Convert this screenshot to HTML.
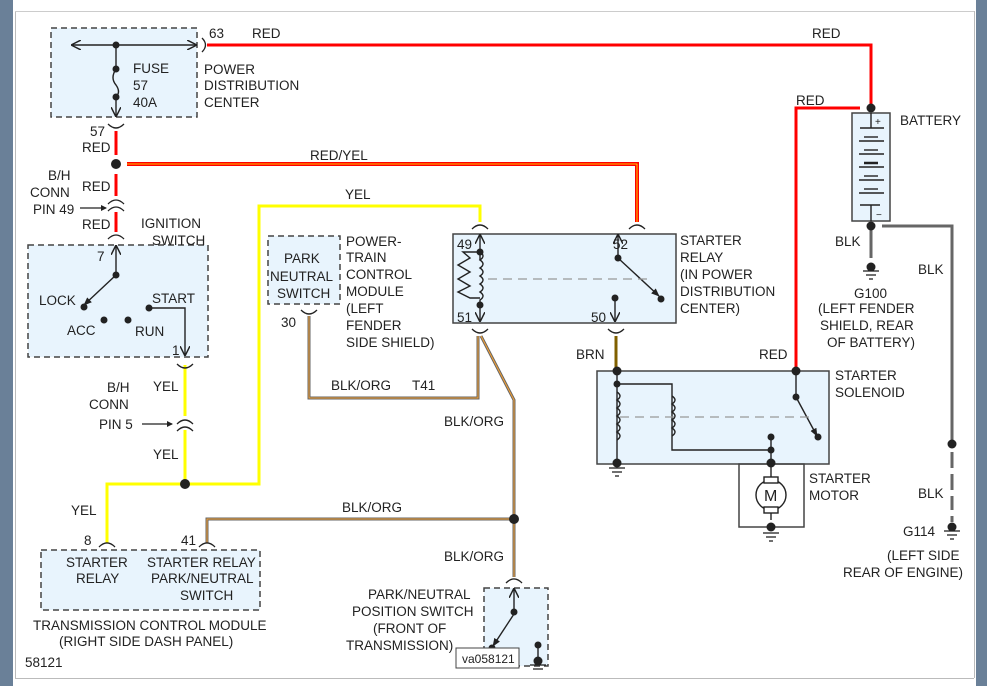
<!DOCTYPE html>
<html><head><meta charset="utf-8"><style>
html,body{margin:0;padding:0;background:#fff;}
svg{display:block;font-family:"Liberation Sans",Arial,sans-serif;}
text{font-size:13.5px;fill:#222;}
</style></head><body>
<svg width="987" height="686" viewBox="0 0 987 686" xmlns="http://www.w3.org/2000/svg">
<defs>
<marker id="ar" viewBox="0 0 10 10" refX="9" refY="5" markerWidth="7" markerHeight="7" orient="auto"><path d="M0,0 L10,5 L0,10" fill="none" stroke="#222" stroke-width="1.5"/></marker>
<marker id="af" viewBox="0 0 10 10" refX="9" refY="5" markerWidth="6" markerHeight="6" orient="auto"><path d="M0,1 L10,5 L0,9z" fill="#222"/></marker>
</defs>
<rect x="0" y="0" width="987" height="686" fill="#fff"/>
<rect x="0" y="0" width="13" height="686" fill="#6a8098"/>
<rect x="976" y="0" width="11" height="686" fill="#6a8098"/>
<line x1="15.5" y1="11" x2="15.5" y2="678" stroke="#bbb"/>
<line x1="15" y1="11.5" x2="974" y2="11.5" stroke="#ccc"/>
<line x1="974.5" y1="11" x2="974.5" y2="678" stroke="#bbb"/>
<line x1="15" y1="678.5" x2="974" y2="678.5" stroke="#bbb"/>

<g fill="#e8f4fd" stroke="#444" stroke-width="1.5" stroke-dasharray="6,4">
<rect x="51" y="28" width="146" height="89"/>
<rect x="28" y="245" width="180" height="112"/>
<rect x="268" y="236" width="72" height="68"/>
<rect x="41" y="550" width="219" height="60"/>
<rect x="484" y="588" width="64" height="78"/>
</g>
<g fill="#e8f4fd" stroke="#444" stroke-width="1.5">
<rect x="453" y="234" width="223" height="89"/>
<rect x="597" y="371" width="232" height="93"/>
<rect x="852" y="113" width="38" height="108"/>
</g>
<rect x="739" y="464" width="65" height="63" fill="none" stroke="#444" stroke-width="1.5"/>

<g fill="none" stroke-width="3">
<path d="M207,45 H871 V108" stroke="#f00"/>
<path d="M860,108 H796 V372" stroke="#f00"/>
<path d="M116,131 V155 M116,174 V196 M116,212 V232" stroke="#f00"/>
<path d="M127,164 H637 V222" stroke="#f00" stroke-width="4"/>
<path d="M127,164 H637 V222" stroke="#ff0" stroke-width="0.8"/>
<path d="M480,222 V206 H259 V484 H185 M185,365 V416 M185,430 V484 M185,484 H107 V543" stroke="#ff0"/>
<path d="M309,316 V398 H478 V336 M481,336 L514,400 V577 M514,519 H207 V543" stroke="#666"/>
<path d="M309,316 V398 H478 V336 M481,336 L514,400 V577 M514,519 H207 V543" stroke="#f7a030" stroke-width="1"/>
<path d="M616,336 V372" stroke="#806000"/>
<path d="M871,228 V258 M882,226 H952 V440 M952,452 V468 M952,474 V490 M952,496 V510 M952,516 V522" stroke="#666"/>
</g>

<g fill="none" stroke="#222" stroke-width="1.3">
<path d="M202,38 Q209,45 202,52"/>
<path d="M108,124 Q116,132 124,124"/>
<path d="M108,204 Q116,196 124,204 M108,211 Q116,203 124,211"/>
<path d="M108,239 Q116,231 124,239"/>
<path d="M177,364 Q185,372 193,364"/>
<path d="M177,424 Q185,416 193,424 M177,431 Q185,423 193,431"/>
<path d="M99,547 Q107,539 115,547 M199,547 Q207,539 215,547"/>
<path d="M301,310 Q309,318 317,310"/>
<path d="M472,229 Q480,221 488,229 M629,229 Q637,221 645,229"/>
<path d="M472,329 Q480,337 488,329 M608,329 Q616,337 624,329"/>
<path d="M506,583 Q514,575 522,583"/>
</g>

<g stroke="#222" stroke-width="1.4" fill="none">
<line x1="116" y1="45" x2="72" y2="45" marker-end="url(#ar)"/>
<line x1="116" y1="45" x2="196" y2="45" marker-end="url(#ar)"/>
<line x1="116" y1="45" x2="116" y2="69"/>
<path d="M116,69 Q110,78 116,85 Q121,92 116,97"/>
<line x1="116" y1="97" x2="116" y2="116" marker-end="url(#ar)"/>
<line x1="116" y1="275" x2="116" y2="246" marker-end="url(#ar)"/>
<line x1="116" y1="275" x2="84" y2="305" marker-end="url(#af)"/>
<path d="M149,308 H185 V355" marker-end="url(#ar)"/>
<line x1="480" y1="260" x2="480" y2="235" marker-end="url(#ar)"/>
<line x1="480" y1="305" x2="480" y2="321" marker-end="url(#ar)"/>
<path d="M480,252 H463 L470,258 L458,265 L470,272 L458,279 L470,286 L458,292 L470,298 H480"/>
<path d="M480,252 q6,4 0,8 q6,4 0,8 q6,4 0,8 q6,4 0,8 q6,4 0,8 q6,4 0,8 v6"/>
<line x1="618" y1="258" x2="618" y2="235" marker-end="url(#ar)"/>
<line x1="618" y1="258" x2="659" y2="296" marker-end="url(#af)"/>
<line x1="615" y1="298" x2="615" y2="321" marker-end="url(#ar)"/>
<line x1="617" y1="371" x2="617" y2="463"/>
<path d="M617,384 H672 V450 H771"/>
<path d="M617,392 q6,4 0,8 q6,4 0,8 q6,4 0,8 q6,4 0,8 q6,4 0,8 q6,4 0,8"/>
<path d="M672,396 q6,4 0,8 q6,4 0,8 q6,4 0,8 q6,4 0,8 q6,4 0,8"/>
<line x1="796" y1="371" x2="796" y2="397"/>
<line x1="796" y1="397" x2="817" y2="436" marker-end="url(#af)"/>
<line x1="771" y1="437" x2="771" y2="520"/>
<circle cx="771" cy="495" r="15" fill="#fff"/>
<rect x="764" y="477" width="14" height="6" fill="#fff"/>
<rect x="764" y="507" width="14" height="6" fill="#fff"/>
<line x1="514" y1="612" x2="514" y2="589" marker-end="url(#ar)"/>
<line x1="514" y1="614" x2="493" y2="646" marker-end="url(#af)"/>
<line x1="538" y1="645" x2="538" y2="661"/>
<line x1="871" y1="113" x2="871" y2="128"/><line x1="871" y1="205" x2="871" y2="221"/>
<line x1="860" y1="128" x2="884" y2="128"/><line x1="860" y1="205" x2="880" y2="205"/>
<line x1="859" y1="141" x2="884" y2="141"/><line x1="859" y1="154" x2="884" y2="154"/><line x1="859" y1="167" x2="884" y2="167"/><line x1="859" y1="180" x2="884" y2="180"/><line x1="859" y1="193" x2="884" y2="193"/>
<line x1="864" y1="137" x2="878" y2="137"/><line x1="864" y1="150" x2="878" y2="150"/><line x1="864" y1="163" x2="878" y2="163" stroke-width="2.5"/><line x1="864" y1="176" x2="878" y2="176"/><line x1="864" y1="189" x2="878" y2="189"/>
</g>
<g stroke="#999" stroke-width="1.2" stroke-dasharray="9,6">
<line x1="488" y1="279" x2="650" y2="279"/>
<line x1="620" y1="417" x2="810" y2="417"/>
</g>
<g stroke="#222" stroke-width="1.3">
<line x1="80" y1="208" x2="106" y2="208"/>
<line x1="142" y1="424" x2="172" y2="424"/>
</g>
<g fill="#222">
<path d="M107,208 l-6,-3 v6z"/><path d="M173,424 l-6,-3 v6z"/>
<circle cx="116" cy="45" r="3.5"/><circle cx="116" cy="69" r="3.5"/><circle cx="116" cy="97" r="3.5"/>
<circle cx="116" cy="164" r="5"/><circle cx="185" cy="484" r="5"/><circle cx="514" cy="519" r="5"/>
<circle cx="116" cy="275" r="3.5"/><circle cx="84" cy="307" r="3.5"/><circle cx="104" cy="320" r="3.5"/><circle cx="128" cy="320" r="3.5"/><circle cx="149" cy="308" r="3.5"/>
<circle cx="480" cy="252" r="3.5"/><circle cx="480" cy="305" r="3.5"/><circle cx="618" cy="258" r="3.5"/><circle cx="661" cy="299" r="3.5"/><circle cx="615" cy="298" r="3.5"/>
<circle cx="617" cy="371" r="4.5"/><circle cx="617" cy="384" r="3.5"/><circle cx="617" cy="463" r="4.5"/>
<circle cx="796" cy="371" r="4.5"/><circle cx="796" cy="397" r="3.5"/><circle cx="818" cy="437" r="3.5"/>
<circle cx="771" cy="437" r="3.5"/><circle cx="771" cy="450" r="3.5"/><circle cx="771" cy="463" r="4.5"/><circle cx="771" cy="527" r="4.5"/>
<circle cx="871" cy="108" r="4.5"/><circle cx="871" cy="226" r="4.5"/><circle cx="871" cy="267" r="4.5"/><circle cx="952" cy="444" r="4.5"/><circle cx="952" cy="527" r="4.5"/>
<circle cx="514" cy="612" r="3.5"/><circle cx="492" cy="648" r="3.5"/><circle cx="538" cy="645" r="3.5"/><circle cx="538" cy="661" r="4.5"/>
</g>
<g stroke="#222" stroke-width="1.3">
<line x1="609" y1="468" x2="625" y2="468"/><line x1="612" y1="472" x2="622" y2="472"/><line x1="615" y1="476" x2="619" y2="476"/>
<line x1="763" y1="533" x2="779" y2="533"/><line x1="766" y1="537" x2="776" y2="537"/><line x1="769" y1="541" x2="773" y2="541"/>
<line x1="863" y1="271" x2="879" y2="271"/><line x1="866" y1="275" x2="876" y2="275"/><line x1="869" y1="279" x2="873" y2="279"/>
<line x1="944" y1="531" x2="960" y2="531"/><line x1="947" y1="535" x2="957" y2="535"/><line x1="950" y1="539" x2="954" y2="539"/>
<line x1="530" y1="665" x2="546" y2="665"/><line x1="533" y1="669" x2="543" y2="669"/>
</g>
<rect x="456" y="648" width="63" height="20" fill="#fff" stroke="#444"/>
<text x="462" y="663" style="font-size:12px">va058121</text>

<g>
<text x="133" y="73">FUSE</text><text x="133" y="90">57</text><text x="133" y="107">40A</text>
<text x="204" y="74">POWER</text><text x="204" y="90">DISTRIBUTION</text><text x="204" y="107">CENTER</text>
<text x="209" y="38">63</text><text x="252" y="38">RED</text><text x="812" y="38">RED</text><text x="796" y="105">RED</text>
<text x="90" y="136">57</text><text x="82" y="152">RED</text>
<text x="48" y="180">B/H</text><text x="30" y="197">CONN</text><text x="33" y="214">PIN 49</text>
<text x="82" y="191">RED</text><text x="82" y="229">RED</text>
<text x="141" y="228">IGNITION</text><text x="152" y="245">SWITCH</text>
<text x="97" y="261">7</text><text x="39" y="305">LOCK</text><text x="152" y="303">START</text><text x="67" y="335">ACC</text><text x="135" y="336">RUN</text><text x="172" y="355">1</text>
<text x="310" y="160">RED/YEL</text><text x="345" y="199">YEL</text>
<text x="284" y="263">PARK</text><text x="270" y="281">NEUTRAL</text><text x="277" y="298">SWITCH</text>
<text x="346" y="246">POWER-</text><text x="346" y="262">TRAIN</text><text x="346" y="279">CONTROL</text><text x="346" y="296">MODULE</text><text x="346" y="313">(LEFT</text><text x="346" y="330">FENDER</text><text x="346" y="347">SIDE SHIELD)</text>
<text x="281" y="327">30</text>
<text x="457" y="249">49</text><text x="457" y="322">51</text><text x="613" y="249">52</text><text x="591" y="322">50</text>
<text x="680" y="245">STARTER</text><text x="680" y="262">RELAY</text><text x="680" y="279">(IN POWER</text><text x="680" y="296">DISTRIBUTION</text><text x="680" y="313">CENTER)</text>
<text x="107" y="392">B/H</text><text x="89" y="409">CONN</text><text x="99" y="429">PIN 5</text>
<text x="153" y="391">YEL</text><text x="153" y="459">YEL</text>
<text x="331" y="390">BLK/ORG</text><text x="412" y="390">T41</text>
<text x="444" y="426">BLK/ORG</text><text x="342" y="512">BLK/ORG</text><text x="444" y="561">BLK/ORG</text>
<text x="576" y="359">BRN</text><text x="759" y="359">RED</text>
<text x="835" y="380">STARTER</text><text x="835" y="397">SOLENOID</text>
<text x="809" y="483">STARTER</text><text x="809" y="500">MOTOR</text>
<text x="900" y="125">BATTERY</text>
<text x="835" y="246">BLK</text><text x="918" y="274">BLK</text><text x="918" y="498">BLK</text>
<text x="854" y="298">G100</text><text x="818" y="313">(LEFT FENDER</text><text x="820" y="330">SHIELD, REAR</text><text x="827" y="347">OF BATTERY)</text>
<text x="903" y="536">G114</text><text x="887" y="560">(LEFT SIDE</text><text x="843" y="577">REAR OF ENGINE)</text>
<text x="71" y="515">YEL</text><text x="84" y="545">8</text><text x="181" y="545">41</text>
<text x="66" y="567">STARTER</text><text x="76" y="583">RELAY</text>
<text x="147" y="567">STARTER RELAY</text><text x="151" y="583">PARK/NEUTRAL</text><text x="180" y="600">SWITCH</text>
<text x="33" y="630">TRANSMISSION CONTROL MODULE</text><text x="59" y="646">(RIGHT SIDE DASH PANEL)</text>
<text x="25" y="667">58121</text>
<text x="368" y="599">PARK/NEUTRAL</text><text x="352" y="616">POSITION SWITCH</text><text x="373" y="633">(FRONT OF</text><text x="346" y="650">TRANSMISSION)</text>
<text x="875" y="125" style="font-size:10px">+</text><text x="876" y="218" style="font-size:10px">−</text>
<text x="764" y="501" style="font-size:16px">M</text>
</g>
</svg>
</body></html>
